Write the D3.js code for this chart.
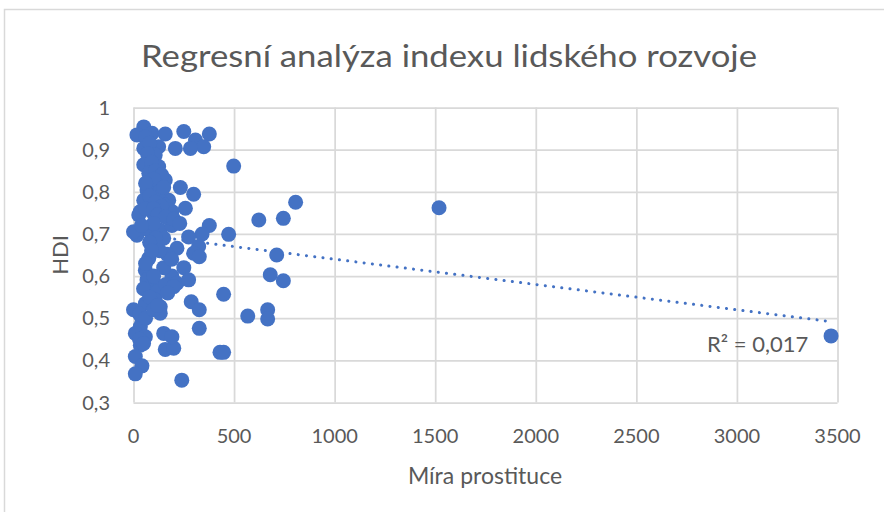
<!DOCTYPE html>
<html>
<head>
<meta charset="utf-8">
<script src="https://cdn.jsdelivr.net/npm/d3@7"></script>
<style>
  body { margin: 0; background: #fff; }
  svg { display: block; font-family: Lato, "Open Sans", sans-serif; }
  .grid line { stroke: #d9d9d9; stroke-width: 1.75; }
  .grid path { display: none; }
  .tick-label { fill: #595959; font-size: 20px; }
</style>
</head>
<body>
<svg id="chart" width="884" height="512"></svg>
<script>
// Míra prostituce (x) a HDI (y)
var prostitution = [
    51, 17, 92, 60, 158, 250, 377, 308, 349, 283, 208, 125, 51, 80, 108, 70,
    51, 125, 90, 76, 110, 158, 140, 233, 299, 67, 117, 95, 51, 125, 175, 85,
    258, 498, 34, 92, 191, 150, 26, 175, 623, 473, 377, 341, 274, 17, 76, 133,
    191, 117, 216, 167, 324, 299, 327, 76, 59, 67, 191, 250, 216, 274, 108, 117,
    448, 680, 712, 745, 806, 745, 1519, 3468, 568, 667, 667, 327, 430, 448, 240, 0,
    42, 34, 9, 59, 34, 9, 42, 9, 158, 200, 150, 191, 287, 327, 133, 133,
    59, 108, 0, 100, 60, 130, 150, 80, 110, 140, 60, 100, 120, 160, 200, 230,
    100, 40, 150, 110, 80, 130, 90, 60, 150, 190, 100, 50, 80, 30, 60, 30,
    50, 160, 200, 170, 100, 120
]
var hdi = [
    0.954, 0.935, 0.939, 0.930, 0.937, 0.943, 0.937, 0.923, 0.907, 0.903, 0.903, 0.907, 0.903, 0.915, 0.887, 0.890,
    0.864, 0.860, 0.870, 0.844, 0.850, 0.828, 0.840, 0.810, 0.794, 0.804, 0.816, 0.800, 0.780, 0.788, 0.780, 0.770,
    0.761, 0.861, 0.753, 0.753, 0.753, 0.770, 0.745, 0.757, 0.733, 0.699, 0.720, 0.700, 0.693, 0.697, 0.709, 0.709,
    0.720, 0.670, 0.666, 0.652, 0.670, 0.654, 0.646, 0.642, 0.614, 0.591, 0.600, 0.620, 0.583, 0.591, 0.579, 0.563,
    0.557, 0.603, 0.650, 0.589, 0.775, 0.737, 0.762, 0.458, 0.505, 0.520, 0.498, 0.476, 0.419, 0.419, 0.353, 0.520,
    0.500, 0.480, 0.464, 0.456, 0.436, 0.409, 0.387, 0.368, 0.426, 0.429, 0.464, 0.456, 0.539, 0.520, 0.512, 0.527,
    0.535, 0.543, 0.705, 0.830, 0.820, 0.800, 0.810, 0.790, 0.775, 0.765, 0.760, 0.760, 0.745, 0.740, 0.735, 0.725,
    0.725, 0.720, 0.690, 0.690, 0.680, 0.660, 0.660, 0.630, 0.620, 0.640, 0.600, 0.570, 0.550, 0.510, 0.500, 0.450,
    0.440, 0.580, 0.575, 0.560, 0.520, 0.530
]
var xTicks = [0, 500, 1000, 1500, 2000, 2500, 3000, 3500]
var yTicks = [0.3, 0.4, 0.5, 0.6, 0.7, 0.8, 0.9, 1]

// lineární spojnice trendu (jak ji ukazuje Excel)
var trendIntercept = 0.700
var trendSlope = -0.0000600
var rSquaredLabel = "R² = 0,017"

var chartTitle = "Regresní analýza indexu lidského rozvoje"
var xTitle = "Míra prostituce"
var yTitle = "HDI"

var color = "#4472c4"
var svg = d3.select("#chart")

// chart frame
svg.append("rect")
    .attr("x", 4.5).attr("y", 9.5)
    .attr("width", 900).attr("height", 600)
    .attr("fill", "#fff")
    .attr("stroke", "#d9d9d9")
    .attr("stroke-width", 1.5)

var x = d3.scaleLinear().domain([0, 3500]).range([133.5, 837.5])
var y = d3.scaleLinear().domain([0.3, 1]).range([402.5, 107.5])

var fmt = function(d) { return String(d).replace(".", ",") }

// grid lines X = const
svg.append("g")
    .classed("grid", true)
    .attr("transform", "translate(0," + y(0.3) + ")")
    .call(d3.axisTop(x).tickValues(xTicks).tickSize(y(0.3) - y(1)).tickFormat(""))

// grid lines Y = const
svg.append("g")
    .classed("grid", true)
    .attr("transform", "translate(" + x(0) + ",0)")
    .call(d3.axisRight(y).tickValues(yTicks).tickSize(x(3500) - x(0)).tickFormat(""))

// tick labels
svg.append("g").selectAll("text")
    .data(xTicks)
    .join("text")
    .attr("class", "tick-label")
    .attr("x", d => x(d))
    .attr("y", 443)
    .attr("text-anchor", "middle")
    .text(fmt)

svg.append("g").selectAll("text")
    .data(yTicks)
    .join("text")
    .attr("class", "tick-label")
    .attr("x", 110)
    .attr("y", d => y(d) + 7)
    .attr("text-anchor", "end")
    .text(fmt)

// trend line
var xMin = d3.min(prostitution), xMax = d3.max(prostitution)
svg.append("line")
    .attr("x1", x(xMin)).attr("y1", y(trendIntercept + trendSlope * xMin))
    .attr("x2", x(xMax)).attr("y2", y(trendIntercept + trendSlope * xMax))
    .attr("stroke", color)
    .attr("stroke-width", 3)
    .attr("stroke-linecap", "round")
    .attr("stroke-dasharray", "0.1 8.2")

// points
svg.append("g").selectAll("circle")
    .data(prostitution.map((v, i) => [v, hdi[i]]))
    .join("circle")
    .attr("cx", d => x(d[0]))
    .attr("cy", d => y(d[1]))
    .attr("r", 7.5)
    .attr("fill", color)

svg.append("text")
    .attr("x", 707)
    .attr("y", 352)
    .attr("fill", "#595959")
    .style("font-size", "22px")
    .text(rSquaredLabel)

// titles
svg.append("text")
    .attr("x", 449)
    .attr("y", 67)
    .attr("text-anchor", "middle")
    .attr("fill", "#595959")
    .attr("textLength", 616)
    .attr("lengthAdjust", "spacingAndGlyphs")
    .style("font-size", "31px")
    .text(chartTitle)

svg.append("text")
    .attr("x", 485)
    .attr("y", 484)
    .attr("text-anchor", "middle")
    .attr("fill", "#595959")
    .style("font-size", "23px")
    .text(xTitle)

svg.append("text")
    .attr("transform", "translate(68,255) rotate(-90)")
    .attr("text-anchor", "middle")
    .attr("fill", "#595959")
    .style("font-size", "22px")
    .text(yTitle)
</script>
</body>
</html>
